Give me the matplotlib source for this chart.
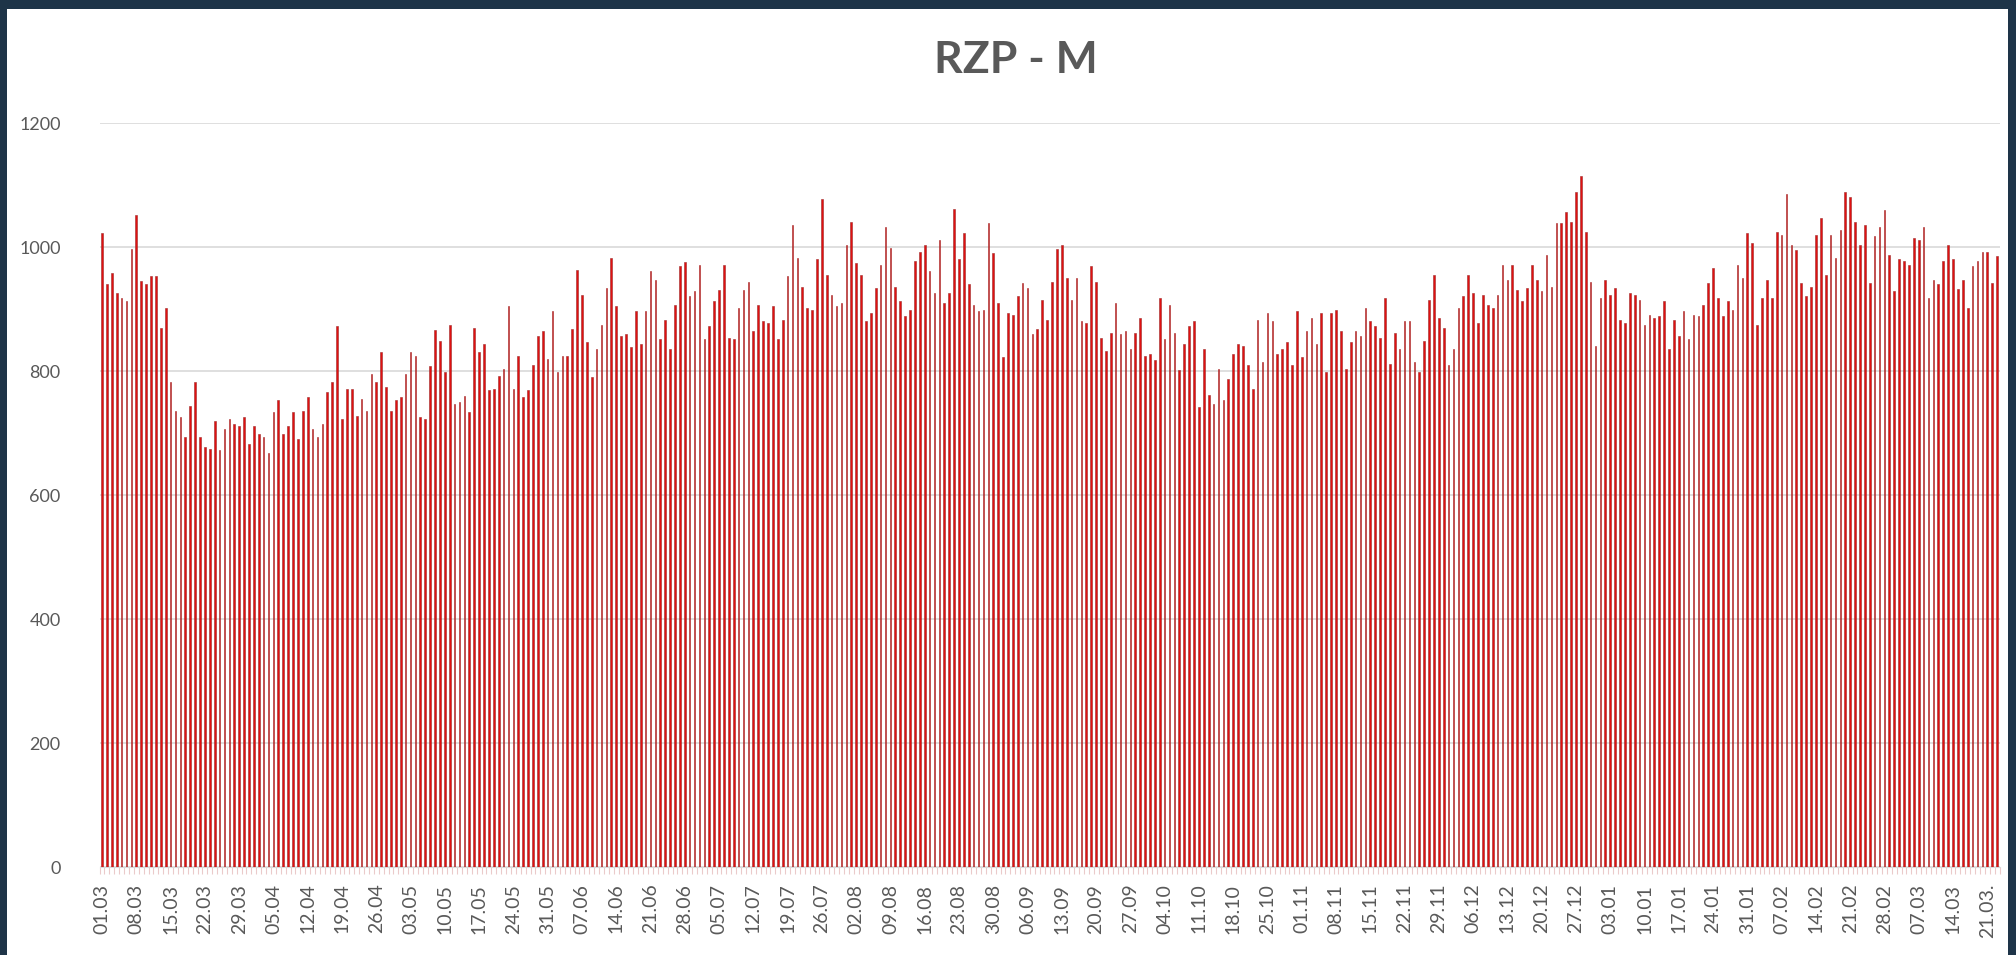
import matplotlib
matplotlib.use("Agg")
import matplotlib.pyplot as plt
import matplotlib.patches as mpatches
import numpy as np
import pandas as pd

plt.rcParams['font.family'] = ['Lato', 'DejaVu Sans']

# daily categories 01.03 .. 23.03 (next year)
days = pd.date_range("2020-03-01", "2021-03-23", freq="D")
categories = [d.strftime("%d.%m") for d in days]

values = [
    # 01.03 - 03.05
    1022, 940, 958, 926, 918, 913, 996, 1052, 945, 940, 953, 953, 870, 902, 782, 736,
    726, 694, 744, 782, 694, 678, 675, 720, 672, 707, 723, 715, 712, 726, 683, 712,
    699, 694, 667, 734, 753, 699, 712, 734, 691, 736, 758, 707, 694, 715, 766, 782,
    873, 723, 771, 771, 728, 755, 736, 795, 782, 830, 774, 736, 753, 758, 795, 830,
    # 04.05 - 07.07
    825, 726, 723, 808, 866, 849, 799, 875, 747, 750, 760, 734, 870, 830, 843, 769,
    771, 792, 803, 905, 771, 825, 758, 769, 809, 857, 865, 819, 897, 799, 825, 825,
    867, 963, 923, 846, 790, 835, 875, 934, 982, 905, 857, 859, 838, 897, 843, 897,
    961, 947, 851, 883, 835, 907, 969, 976, 921, 929, 971, 851, 873, 913, 931, 971,
    854, 851,
    # 08.07 - 10.09
    902, 931, 944, 865, 907, 881, 878, 905, 851, 883, 953, 1036, 982, 936, 902, 899,
    980, 1078, 955, 923, 905, 910, 1003, 1041, 974, 955, 881, 894, 934, 971, 1033, 998,
    936, 913, 888, 899, 977, 992, 1003, 961, 926, 1011, 910, 926, 1062, 980, 1022, 940,
    907, 897, 899, 1038, 990, 910, 822, 894, 891, 921, 942, 934, 859, 867, 915, 883,
    944,
    # 11.09 - 14.11
    996, 1003, 950, 915, 950, 880, 878, 969, 944, 854, 832, 862, 910, 859, 865, 835,
    862, 886, 825, 827, 817, 918, 851, 907, 862, 801, 843, 873, 880, 742, 835, 761,
    747, 803, 753, 787, 827, 843, 840, 809, 771, 883, 814, 894, 880, 827, 835, 846,
    809, 897, 822, 865, 886, 843, 894, 799, 894, 899, 865, 803, 846, 865, 857, 902,
    880,
    # 15.11 - 19.01
    873, 854, 918, 811, 862, 835, 880, 880, 814, 798, 849, 915, 955, 886, 870, 809,
    835, 902, 921, 955, 926, 878, 923, 907, 902, 923, 971, 947, 971, 931, 913, 934,
    971, 947, 929, 987, 936, 1038, 1038, 1057, 1041, 1088, 1115, 1025, 944, 840, 918, 947,
    923, 934, 883, 878, 926, 923, 915, 875, 891, 886, 888, 913, 835, 883, 857, 897,
    851, 891,
    # 20.01 - 23.03
    889, 907, 942, 966, 918, 889, 913, 899, 971, 950, 1022, 1006, 875, 918, 947, 918,
    1025, 1019, 1086, 1003, 995, 942, 921, 936, 1019, 1046, 955, 1019, 982, 1027, 1089, 1081,
    1041, 1003, 1036, 942, 1017, 1033, 1059, 987, 929, 980, 977, 971, 1014, 1011, 1033, 918,
    947, 940, 977, 1003, 980, 932, 947, 902, 969, 977, 992, 992, 942, 985,
]

tick_labels = [
    "01.03", "08.03", "15.03", "22.03", "29.03", "05.04", "12.04", "19.04", "26.04",
    "03.05", "10.05", "17.05", "24.05", "31.05", "07.06", "14.06", "21.06", "28.06",
    "05.07", "12.07", "19.07", "26.07", "02.08", "09.08", "16.08", "23.08", "30.08",
    "06.09", "13.09", "20.09", "27.09", "04.10", "11.10", "18.10", "25.10", "01.11",
    "08.11", "15.11", "22.11", "29.11", "06.12", "13.12", "20.12", "27.12", "03.01",
    "10.01", "17.01", "24.01", "31.01", "07.02", "14.02", "21.02", "28.02", "07.03",
    "14.03", "21.03.",
]

title = "RZP - M"

n = min(len(categories), len(values))
categories = categories[:n]
values = values[:n]

W, H, DPI = 2016, 955, 100
fig = plt.figure(figsize=(W / DPI, H / DPI), dpi=DPI, facecolor="#1E3448")
panel = mpatches.Rectangle((7 / W, 0), (W - 7 - 8) / W, (H - 9) / H,
                           transform=fig.transFigure, facecolor="white",
                           edgecolor="none", zorder=-10)
fig.add_artist(panel)

left, right = 99.6 / W, 1999.5 / W
bottom, top = 1 - 867 / H, 1 - 123 / H
ax = fig.add_axes([left, bottom, right - left, top - bottom])
ax.set_zorder(5)
ax.set_facecolor("white")

x = np.arange(n)
ax.bar(x, values, width=0.34, color="#E01010", edgecolor="#9E2A2A", linewidth=0.4, zorder=3)

ax.set_xlim(-0.5, n - 0.5)
ax.set_ylim(0, 1200)
ax.set_yticks(np.arange(0, 1201, 200))
ax.yaxis.grid(True, color="#D9D9D9", linewidth=1.2, zorder=0)
ax.set_axisbelow(True)

tick_pos = np.arange(0, 7 * len(tick_labels), 7)
ax.set_xticks(tick_pos)
ax.set_xticklabels(tick_labels, rotation=90, fontsize=14, color="#595959")
ax.set_xticks(np.arange(-0.5, n, 1), minor=True)
ax.tick_params(axis="x", which="major", length=0, pad=12)
ax.tick_params(axis="x", which="minor", length=5, color="#EBCACA", width=0.8)
ax.tick_params(axis="y", length=0, labelsize=13, labelcolor="#595959", pad=28)

for s in ["top", "right", "left"]:
    ax.spines[s].set_visible(False)
ax.spines["bottom"].set_color("#D9D9D9")

fig.text(1016 / W, 1 - 60 / H, title, ha="center", va="center", fontsize=32,
         fontweight="bold", color="#595959")

fig.savefig("out.png", dpi=DPI, facecolor=fig.get_facecolor())
